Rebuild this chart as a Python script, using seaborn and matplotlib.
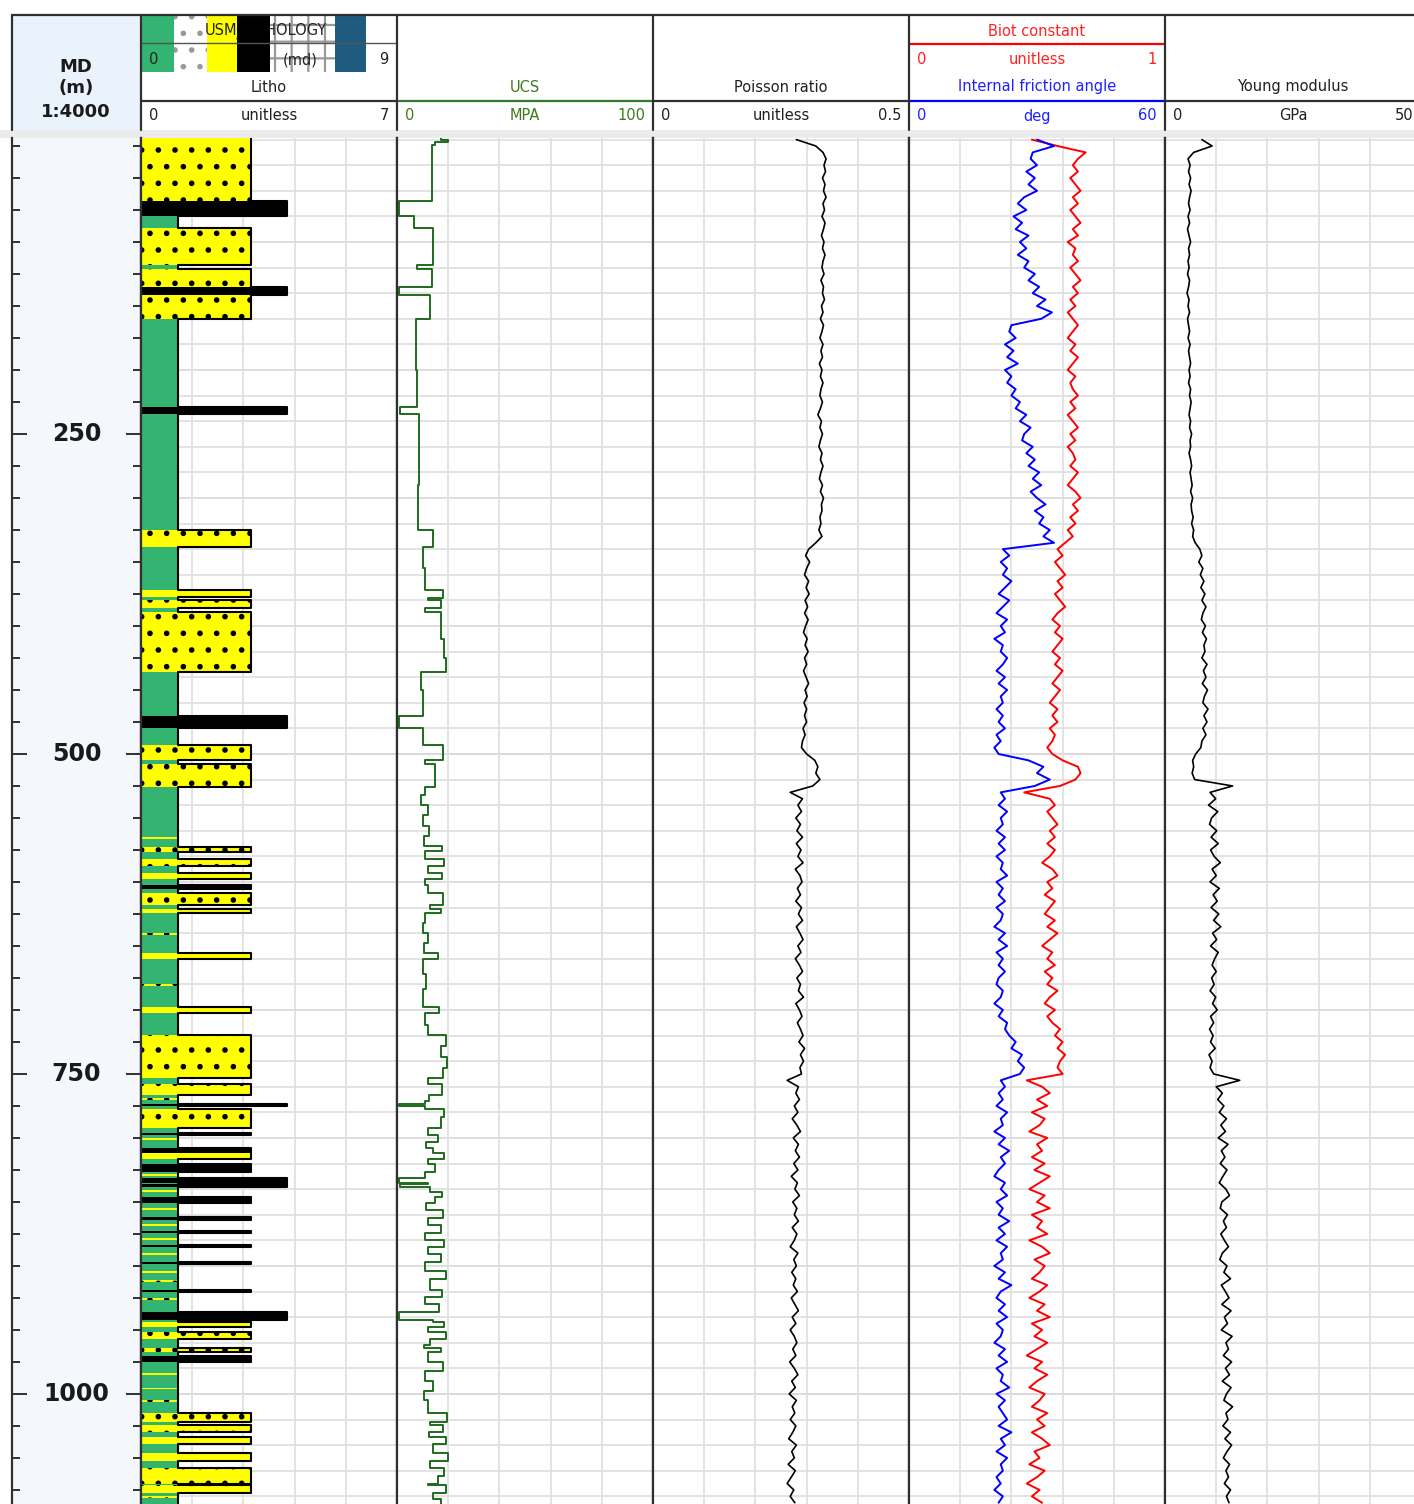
import numpy as np
import matplotlib
matplotlib.use("Agg")
import matplotlib.pyplot as plt
from matplotlib.patches import Rectangle
import seaborn as sns

sns.set_style("white")
plt.rcParams["font.family"] = ["DejaVu Sans"]
plt.rcParams["hatch.linewidth"] = 1.6

W, H = 1414, 1504
HEAD_Y = 138
TOP_MD, BOT_MD = 18.75, 1086.0

# ---------------- data ----------------
# sampled logs, every 5 m from 20 to 1085 m
md = np.arange(20, 1086, 5)

poisson = [
    0.280, 0.318, 0.332, 0.338, 0.334, 0.337, 0.331, 0.336, 0.333, 0.338,
    0.332, 0.335, 0.330, 0.336, 0.333, 0.329, 0.334, 0.331, 0.336, 0.332,
    0.330, 0.334, 0.328, 0.333, 0.331, 0.335, 0.329, 0.332, 0.327, 0.333,
    0.330, 0.326, 0.332, 0.328, 0.331, 0.325, 0.330, 0.327, 0.332, 0.328,
    0.326, 0.331, 0.327, 0.322, 0.329, 0.326, 0.331, 0.327, 0.324, 0.330,
    0.327, 0.332, 0.328, 0.325, 0.331, 0.327, 0.333, 0.329, 0.330, 0.326,
    0.328, 0.324, 0.330, 0.318, 0.304, 0.298, 0.306, 0.300, 0.296, 0.304,
    0.299, 0.305, 0.297, 0.302, 0.296, 0.303, 0.298, 0.294, 0.301, 0.297,
    0.303, 0.296, 0.300, 0.294, 0.299, 0.304, 0.297, 0.301, 0.295, 0.300,
    0.296, 0.300, 0.293, 0.297, 0.292, 0.290, 0.300, 0.316, 0.322, 0.318,
    0.326, 0.312, 0.268, 0.292, 0.283, 0.290, 0.279, 0.288, 0.281, 0.292,
    0.280, 0.289, 0.283, 0.293, 0.278, 0.287, 0.291, 0.282, 0.288, 0.279,
    0.290, 0.284, 0.292, 0.280, 0.287, 0.293, 0.283, 0.289, 0.278, 0.286,
    0.292, 0.281, 0.288, 0.284, 0.294, 0.279, 0.286, 0.291, 0.282, 0.288,
    0.293, 0.285, 0.296, 0.288, 0.294, 0.287, 0.290, 0.262, 0.284, 0.279,
    0.286, 0.276, 0.283, 0.272, 0.281, 0.288, 0.274, 0.284, 0.278, 0.286,
    0.275, 0.283, 0.270, 0.282, 0.277, 0.286, 0.273, 0.281, 0.276, 0.284,
    0.272, 0.281, 0.276, 0.268, 0.283, 0.275, 0.280, 0.271, 0.279, 0.274,
    0.282, 0.270, 0.277, 0.284, 0.272, 0.279, 0.268, 0.276, 0.281, 0.273,
    0.279, 0.267, 0.276, 0.283, 0.271, 0.278, 0.266, 0.280, 0.272, 0.277,
    0.268, 0.279, 0.273, 0.265, 0.280, 0.271, 0.276, 0.264, 0.278, 0.270,
    0.262, 0.275, 0.268, 0.277,
]

young = [
    7.2, 9.2, 5.6, 4.5, 4.9, 4.6, 5.0, 4.7, 5.1, 4.8,
    4.6, 4.9, 4.5, 4.8, 4.4, 4.7, 5.0, 4.6, 4.8, 4.5,
    4.7, 4.4, 4.8, 4.6, 4.3, 4.7, 4.5, 4.8, 4.4, 4.6,
    4.8, 4.5, 4.9, 4.6, 4.8, 5.0, 4.7, 4.9, 4.6, 5.0,
    4.8, 5.1, 4.9, 4.7, 5.0, 4.8, 5.2, 4.9, 5.0, 4.7,
    5.0, 5.2, 4.9, 5.1, 5.3, 5.0, 5.4, 5.1, 5.2, 5.5,
    5.2, 5.6, 5.4, 5.9, 6.8, 7.2, 6.6, 7.4, 6.9, 7.6,
    7.0, 7.8, 7.2, 8.0, 7.4, 7.1, 7.9, 7.3, 8.1, 7.6,
    7.8, 7.2, 8.2, 7.5, 8.0, 7.3, 8.3, 7.7, 7.4, 8.4,
    7.6, 8.2, 7.4, 8.0, 7.2, 7.0, 6.0, 5.4, 5.6, 5.3,
    5.8, 13.2, 8.8, 9.9, 8.5, 10.3, 9.1, 8.7, 10.1, 9.0,
    10.4, 8.9, 9.6, 10.8, 9.2, 10.0, 8.8, 10.6, 9.4, 10.2,
    9.0, 10.5, 9.5, 10.9, 9.3, 10.1, 8.9, 10.4, 9.7, 9.2,
    10.0, 9.1, 9.6, 8.8, 9.9, 9.3, 10.2, 8.9, 9.5, 8.7,
    9.4, 8.9, 9.8, 8.6, 9.2, 8.8, 9.5, 14.6, 10.0, 11.2,
    10.3, 11.5, 10.6, 12.0, 10.9, 11.8, 10.4, 12.3, 11.0, 11.7,
    10.8, 12.1, 11.3, 10.6, 11.9, 12.6, 11.1, 10.8, 12.2, 11.4,
    12.0, 10.9, 11.6, 12.4, 11.2, 10.7, 12.1, 11.5, 12.8, 11.0,
    11.8, 12.5, 11.1, 12.9, 11.6, 12.2, 11.0, 13.1, 11.9, 12.4,
    11.4, 13.0, 11.8, 12.6, 11.2, 12.9, 12.0, 11.5, 13.2, 11.9,
    12.3, 11.3, 12.8, 11.7, 13.0, 12.1, 11.4, 12.6, 11.9, 12.4,
    11.6, 12.8, 12.0, 12.5,
]

biot = [
    0.48, 0.58, 0.69, 0.66, 0.64, 0.66, 0.63, 0.65, 0.67, 0.64,
    0.66, 0.63, 0.65, 0.67, 0.64, 0.66, 0.62, 0.65, 0.64, 0.66,
    0.63, 0.65, 0.67, 0.64, 0.66, 0.63, 0.65, 0.62, 0.64, 0.66,
    0.64, 0.62, 0.65, 0.63, 0.66, 0.64, 0.62, 0.65, 0.63, 0.64,
    0.66, 0.63, 0.65, 0.62, 0.64, 0.66, 0.63, 0.65, 0.62, 0.64,
    0.65, 0.63, 0.66, 0.64, 0.62, 0.65, 0.67, 0.64, 0.66, 0.63,
    0.65, 0.62, 0.64, 0.61, 0.58, 0.60, 0.57, 0.59, 0.61, 0.58,
    0.60, 0.57, 0.59, 0.61, 0.58, 0.56, 0.59, 0.57, 0.60, 0.58,
    0.56, 0.59, 0.57, 0.60, 0.58, 0.56, 0.59, 0.57, 0.55, 0.58,
    0.56, 0.58, 0.55, 0.57, 0.56, 0.54, 0.56, 0.60, 0.66, 0.67,
    0.65, 0.59, 0.45, 0.55, 0.57, 0.54, 0.56, 0.58, 0.55, 0.57,
    0.54, 0.57, 0.55, 0.52, 0.56, 0.58, 0.54, 0.56, 0.53, 0.57,
    0.55, 0.53, 0.57, 0.54, 0.58, 0.55, 0.52, 0.56, 0.54, 0.57,
    0.53, 0.56, 0.54, 0.58, 0.55, 0.53, 0.57, 0.54, 0.56, 0.59,
    0.57, 0.60, 0.58, 0.61, 0.59, 0.58, 0.60, 0.46, 0.52, 0.55,
    0.50, 0.54, 0.48, 0.53, 0.51, 0.47, 0.54, 0.50, 0.52, 0.48,
    0.53, 0.49, 0.55, 0.51, 0.47, 0.53, 0.50, 0.55, 0.48, 0.52,
    0.50, 0.54, 0.47, 0.52, 0.55, 0.49, 0.53, 0.51, 0.48, 0.54,
    0.51, 0.47, 0.53, 0.50, 0.55, 0.48, 0.52, 0.49, 0.54, 0.50,
    0.46, 0.52, 0.49, 0.54, 0.50, 0.47, 0.53, 0.51, 0.48, 0.54,
    0.50, 0.53, 0.48, 0.52, 0.55, 0.49, 0.51, 0.47, 0.53, 0.50,
    0.46, 0.51, 0.48, 0.52,
]

friction = [
    30.0, 34.0, 29.0, 28.5, 30.0, 27.5, 29.5, 28.0, 30.0, 27.0,
    25.5, 27.5, 24.5, 26.5, 25.0, 28.0, 26.0, 27.5, 25.5, 28.0,
    27.0, 29.5, 28.0, 30.5, 29.0, 32.0, 30.0, 33.5, 31.0, 24.0,
    23.5, 25.0, 22.5, 24.5, 23.0, 25.5, 22.5, 24.0, 23.0, 25.0,
    24.0, 26.0, 25.0, 27.5, 26.0, 28.5, 27.0, 26.5, 29.0, 27.5,
    29.5, 28.0, 30.5, 29.0, 31.0, 28.5, 30.0, 32.0, 29.5, 31.5,
    30.5, 33.0, 31.5, 34.0, 22.0, 23.5, 21.5, 23.0, 22.0, 24.0,
    22.5, 21.0, 23.5, 22.0, 20.5, 23.0, 21.5, 22.5, 20.0, 22.0,
    21.5, 23.0, 22.0, 20.5, 22.5, 21.0, 23.0, 21.5, 22.0, 20.5,
    22.0, 21.0, 22.5, 20.5, 21.5, 20.0, 21.0, 28.0, 31.5, 30.0,
    33.0, 29.5, 21.5, 22.5, 21.0, 23.0, 21.5, 22.0, 20.5, 22.5,
    21.0, 22.5, 20.5, 22.0, 21.5, 23.0, 20.5, 22.0, 21.0, 22.5,
    20.5, 22.0, 21.5, 20.0, 22.5, 21.0, 23.0, 20.5, 22.0, 21.0,
    22.5, 21.0, 20.5, 22.0, 21.5, 20.0, 22.0, 21.0, 23.0, 22.5,
    23.5, 25.0, 24.0, 26.5, 25.5, 27.0, 26.0, 21.5, 22.5, 21.0,
    22.0, 20.5, 23.0, 21.5, 22.0, 20.0, 22.5, 21.0, 23.5, 21.5,
    22.5, 21.0, 20.0, 22.5, 21.5, 23.0, 20.5, 22.0, 21.0, 23.5,
    21.0, 22.5, 20.5, 23.0, 21.5, 22.0, 20.0, 22.5, 21.0, 24.0,
    21.5, 20.5, 22.5, 21.0, 23.0, 20.5, 22.0, 21.5, 20.0, 22.5,
    21.0, 23.0, 20.5, 22.0, 21.5, 23.5, 20.5, 22.5, 21.0, 22.0,
    23.0, 21.0, 24.0, 21.5, 22.5, 20.5, 23.0, 21.5, 22.0, 20.5,
    21.5, 20.0, 22.0, 21.0,
]

# blocky UCS log: value holds from each top down to the next top
ucs_top = [
    18.75, 20, 22, 24, 67.7, 79.7, 89.3, 118, 121, 135, 141.4, 160, 200,
    228.7, 234.6, 290, 325, 338, 355, 372, 378, 380, 386, 389, 410, 425,
    436, 450, 470, 480, 493, 505, 508, 526, 532, 540, 548, 556, 564, 572,
    576, 582, 587.5, 593, 598, 602, 609, 618, 621, 624, 632, 640, 648,
    655.5, 660, 672, 684, 697.7, 702.3, 712, 719.5, 728, 737, 745, 753,
    757.8, 766.4, 771, 773.4, 775, 777.3, 784, 792, 797.7, 803, 807.8,
    811.7, 816.4, 820, 826.6, 831, 835, 836, 838, 842, 846, 851, 856,
    862.5, 868, 874, 880, 885, 891, 897, 904, 910, 918.7, 924, 930, 936,
    942, 944, 948, 952, 957, 962, 964, 967, 975, 982, 990, 998, 1005,
    1014.8, 1022, 1024, 1030, 1034, 1039.5, 1046, 1052.6, 1058, 1064,
    1070, 1071, 1077.5, 1082,
]
ucs_val = [
    17, 20, 15, 13.5, 0.8, 6.5, 14, 8, 13.5, 0.8, 13, 7.5, 8, 1, 8.5,
    8.2, 14, 10, 11, 18, 12, 17, 11, 17, 18.5, 19, 9.5, 10, 0.8, 10,
    18, 11, 15, 11, 9.5, 12, 10, 12.5, 10.5, 17.5, 11, 18.5, 12, 17.5,
    11, 12, 18, 13, 17, 11, 10, 12, 10.5, 16, 10, 11.5, 10, 16.5, 11,
    12, 19, 17, 19.5, 18, 12, 17.5, 12.5, 11, 0.8, 11, 18.5, 17, 12, 16,
    11.5, 14, 18.5, 12, 15, 11, 0.8, 12, 1, 13, 17.5, 15, 11.5, 18, 12,
    17, 11, 18.5, 12, 17, 11, 19, 13, 17.5, 11, 16.5, 0.8, 14, 18.5, 12,
    19, 13, 10.5, 17, 12, 18, 11, 14, 10.5, 12, 19.5, 13, 18, 12.5, 19,
    14, 20, 13, 18.5, 16, 12, 19, 14, 17,
]

# non-shale beds of the lithology column (gaps are shale, value 1)
bed_top = [
    18.75, 67.7, 89.3, 121, 135, 141.4, 228.7, 325, 372, 380, 389, 470,
    493, 508, 565, 572.4, 582, 593, 602, 609, 621, 640, 655.5, 680, 697.7,
    719.5, 757.8, 769, 773.4, 777.3, 796, 800, 807.8, 811.7, 820.3, 828,
    831, 836, 841, 846, 855, 862, 867, 873, 878, 883.6, 890, 897, 904,
    911, 918.7, 925, 936, 944, 952, 964, 970, 984, 995, 1005, 1014.8,
    1024, 1034, 1046, 1058, 1071, 1080,
]
bed_base = [
    67.7, 79.7, 118, 135, 141.4, 160, 234.6, 338, 377, 386, 436, 480,
    505, 526, 566.5, 576.3, 587.5, 597.7, 605.5, 618, 624, 641.5, 660,
    681.5, 702.3, 753, 766.4, 770.5, 775, 792, 797.7, 801.5, 811.7, 816.4,
    826.6, 829.5, 835, 838, 842.5, 851, 856.5, 864, 868.5, 874.5, 879.5,
    885, 891.5, 898.5, 905.5, 912.5, 920, 926.5, 942, 948, 957, 967, 975,
    985.5, 996.5, 1006.5, 1022, 1030, 1039.5, 1052.6, 1070, 1077.5, 1081.5,
]
bed_kind = [
    "sand", "coal", "sand", "sand", "coal", "sand", "coal", "sand", "sand",
    "sand", "sand", "coal", "sand", "sand", "sand", "sand", "sand", "sand",
    "coal", "sand", "sand", "sand", "sand", "sand", "sand", "sand", "sand",
    "sand", "coal", "sand", "coal", "sand", "coal", "sand", "coal", "sand",
    "coal", "coal", "sand", "coal", "sand", "coal", "sand", "coal", "sand",
    "coal", "sand", "coal", "sand", "sand", "coal", "sand", "coal", "sand",
    "sand", "sand", "coal", "sand", "sand", "sand", "sand", "sand", "sand",
    "sand", "sand", "sand", "sand",
]
bed_value = [
    3, 4, 3, 3, 4, 3, 4, 3, 3, 3, 3, 4, 3, 3, 1, 3, 3, 3, 3, 3, 3, 1, 3,
    1, 3, 3, 3, 1, 4, 3, 3, 1, 3, 3, 3, 1, 4, 4, 1, 3, 1, 3, 1, 3, 1, 3,
    1, 3, 1, 1, 3, 1, 4, 3, 3, 3, 3, 1, 1, 1, 3, 3, 3, 3, 3, 3, 1,
]

legend_colors = ["#33b571", "#ffffff", "#ffff00", "#000000", "#ffffff", "#1f5b7e", "#ffffff"]
legend_edges = [141, 174, 207, 237, 270, 335, 366, 397]

LITH_FACE = {"shale": "#33b571", "sand": "#ffff00", "coal": "#000000"}
LITH_HATCH = {"shale": None, "sand": ".", "coal": None}

UCS_C = "#1e6b1e"
GRID_C = "#e0e0e0"
EDGE_C = "#303030"

# ---------------- figure ----------------
fig = plt.figure(figsize=(W / 100, H / 100), dpi=100)
hx = fig.add_axes([0, 0, 1, 1])
hx.set_xlim(0, W)
hx.set_ylim(H, 0)
hx.axis("off")


def body_axes(x0, width=256):
    return fig.add_axes([x0 / W, 0, width / W, (H - HEAD_Y) / H])


def style_track(ax, lo, hi):
    ax.set_xlim(lo, hi)
    ax.set_ylim(BOT_MD, TOP_MD)
    ax.set_xticks(np.linspace(lo, hi, 6))
    ax.set_yticks(np.arange(20, BOT_MD, 20))
    ax.set_axisbelow(True)
    ax.grid(True, color=GRID_C, lw=1.3)
    for d in range(100, int(BOT_MD), 100):
        ax.axhline(d, color="#9c9c9c" if d % 500 == 0 else "#cccccc", lw=1.3, zorder=0.5)
    ax.tick_params(length=0, labelleft=False, labelbottom=False)
    ax.set_xlabel("")
    ax.set_ylabel("")
    for s in ["top", "bottom"]:
        ax.spines[s].set_visible(False)
    for s in ["left", "right"]:
        ax.spines[s].set_color(EDGE_C)
        ax.spines[s].set_linewidth(1.6)


def log_line(ax, x, y, color, lw):
    sns.lineplot(x=x, y=y, orient="y", sort=False, estimator=None,
                 color=color, linewidth=lw, ax=ax)


# depth track
ax0 = body_axes(12, 129)
ax0.set_facecolor("#f4f8fd")
ax0.set_xlim(0, 1)
ax0.set_ylim(BOT_MD, TOP_MD)
ax0.set_yticks([250, 500, 750, 1000])
ax0.set_yticks(np.arange(25, BOT_MD, 25), minor=True)
ax0.set_xticks([])
ax0.tick_params(axis="y", which="major", direction="in", length=10.5, width=1.4,
                left=True, right=True, labelleft=False, color=EDGE_C)
ax0.tick_params(axis="y", which="minor", direction="in", length=5.5, width=1.4,
                left=True, right=True, color=EDGE_C)
for s in ["top", "bottom"]:
    ax0.spines[s].set_visible(False)
for s in ["left", "right"]:
    ax0.spines[s].set_color(EDGE_C)
    ax0.spines[s].set_linewidth(1.6)
for d in [250, 500, 750, 1000]:
    ax0.text(0.5, d, str(d), transform=ax0.get_yaxis_transform(), ha="center",
             va="center", fontsize=17, fontweight="bold", color="#1a1a1a")

# litho track
ax1 = body_axes(141)
tops, bases, kinds, vals = [], [], [], []
cur = TOP_MD
for t, b, k, v in zip(bed_top, bed_base, bed_kind, bed_value):
    if t > cur:
        tops.append(cur); bases.append(t); kinds.append("shale"); vals.append(1)
    tops.append(t); bases.append(b); kinds.append(k); vals.append(v)
    cur = b
if cur < BOT_MD:
    tops.append(cur); bases.append(BOT_MD); kinds.append("shale"); vals.append(1)

step_x, step_d = [], []
for t, b, k, v in zip(tops, bases, kinds, vals):
    ax1.fill_betweenx([t, b], 0, v, facecolor=LITH_FACE[k],
                      edgecolor="black" if k == "sand" else LITH_FACE[k],
                      hatch=LITH_HATCH[k], linewidth=0, zorder=2)
    step_x += [v, v]
    step_d += [t, b]
log_line(ax1, step_x, step_d, "black", 1.5)
style_track(ax1, 0, 7)

# UCS track
ax2 = body_axes(397)
ucs_x, ucs_d = [], []
for t, b, v in zip(ucs_top, ucs_top[1:] + [BOT_MD], ucs_val):
    ucs_x += [v, v]
    ucs_d += [t, b]
log_line(ax2, ucs_x, ucs_d, UCS_C, 1.4)
style_track(ax2, 0, 100)

# Poisson track
ax3 = body_axes(653)
log_line(ax3, poisson, md, "black", 1.2)
style_track(ax3, 0, 0.5)

# Biot + friction track
ax4 = body_axes(909)
log_line(ax4, biot, md, "#ff0000", 1.4)
style_track(ax4, 0, 1)
ax4b = ax4.twiny()
log_line(ax4b, friction, md, "#0000ff", 1.4)
ax4b.set_xlim(0, 60)
ax4b.set_ylim(BOT_MD, TOP_MD)
ax4b.axis("off")

# Young track
ax5 = body_axes(1165)
log_line(ax5, young, md, "black", 1.2)
style_track(ax5, 0, 50)

# ---------------- header ----------------
hx.add_patch(Rectangle((12, 15), 129, 115, fc="#eaf2fb", ec="none"))
hx.add_patch(Rectangle((0, 130), W, 8, fc="#ebebeb", ec="none"))
hx.text(76, 67, "MD", ha="center", va="center", fontsize=13, fontweight="bold", color="#1a1a1a")
hx.text(76, 88, "(m)", ha="center", va="center", fontsize=13, fontweight="bold", color="#1a1a1a")
hx.text(76, 112, "1:4000", ha="center", va="center", fontsize=13, fontweight="bold", color="#1a1a1a")

# lithology legend
for i, c in enumerate(legend_colors):
    x0, x1 = legend_edges[i], legend_edges[i + 1]
    hatch = "." if i == 1 else ("+" if i == 4 else None)
    z = 3 if c in ("#000000", "#1f5b7e") else 1
    hx.add_patch(Rectangle((x0, 15), x1 - x0, 57, fc=c,
                           ec="#999999" if hatch else c, lw=0, hatch=hatch, zorder=z))
hx.text(266, 31, "USM_LITHOLOGY", ha="center", va="center", fontsize=10.5, color="#222222", zorder=2)
hx.text(300, 60, "(md)", ha="center", va="center", fontsize=10.5, color="#222222", zorder=2)
hx.text(149, 60, "0", ha="left", va="center", fontsize=10.5, color="#222222", zorder=4)
hx.text(388, 60, "9", ha="right", va="center", fontsize=10.5, color="#222222", zorder=4)
hx.plot([141, 397], [43, 43], color="#555555", lw=1, zorder=4)

headers = [
    (141, "Litho", "unitless", "0", "7", "#202020", EDGE_C),
    (397, "UCS", "MPA", "0", "100", "#3f7a1c", "#2e7d2e"),
    (653, "Poisson ratio", "unitless", "0", "0.5", "#202020", EDGE_C),
    (909, "Internal friction angle", "deg", "0", "60", "#2020ff", "#0000ff"),
    (1165, "Young modulus", "GPa", "0", "50", "#202020", EDGE_C),
]
for x0, name, unit, lo, hi, tc, lc in headers:
    xc = x0 + 128
    hx.text(xc, 87, name, ha="center", va="center", fontsize=10.5, color=tc, zorder=4)
    hx.plot([x0, x0 + 256], [101, 101], color=lc, lw=1.6, zorder=4)
    hx.text(x0 + 8, 116, lo, ha="left", va="center", fontsize=10.5, color=tc, zorder=4)
    hx.text(xc, 116, unit, ha="center", va="center", fontsize=10.5, color=tc, zorder=4)
    hx.text(x0 + 248, 116, hi, ha="right", va="center", fontsize=10.5, color=tc, zorder=4)

# biot constant header (upper half of the shared track)
hx.text(1037, 32, "Biot constant", ha="center", va="center", fontsize=10.5, color="#ff2020", zorder=4)
hx.plot([909, 1165], [44, 44], color="#ff0000", lw=1.6, zorder=4)
hx.text(917, 60, "0", ha="left", va="center", fontsize=10.5, color="#ff2020", zorder=4)
hx.text(1037, 60, "unitless", ha="center", va="center", fontsize=10.5, color="#ff2020", zorder=4)
hx.text(1157, 60, "1", ha="right", va="center", fontsize=10.5, color="#ff2020", zorder=4)

hx.plot([12, W], [15, 15], color=EDGE_C, lw=1.6, zorder=5)
for x in [12, 141, 397, 653, 909, 1165]:
    hx.plot([x, x], [15, 130], color=EDGE_C, lw=1.6, zorder=5)

fig.savefig("out.png", dpi=100, facecolor="white")
